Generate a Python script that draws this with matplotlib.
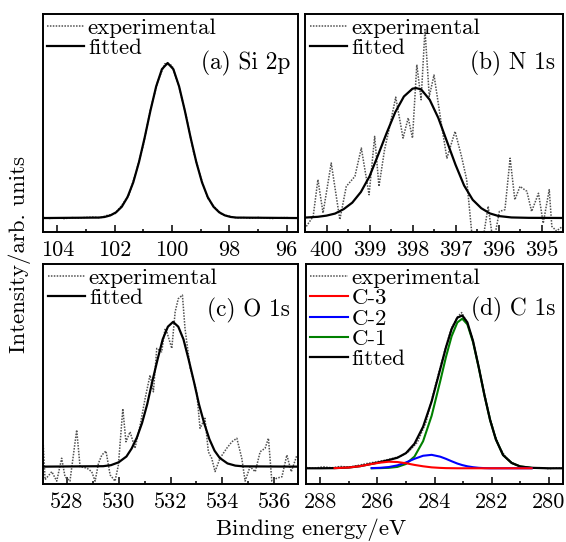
import numpy as np
import matplotlib
matplotlib.use("Agg")
from matplotlib import pyplot as plt
from matplotlib.ticker import MultipleLocator, FormatStrFormatter

plt.rcParams['font.family'] = ['cmr10', 'DejaVu Serif']
plt.rcParams['mathtext.fontset'] = 'cm'
plt.rcParams['axes.formatter.use_mathtext'] = True

# (a) Si 2p
si_exp_x = [104.5, 104.25, 104.0, 103.75, 103.5, 103.25, 103.0, 102.75, 102.5, 102.25, 102.0,
            101.75, 101.5, 101.25, 101.0, 100.75, 100.5, 100.25, 100.0, 99.75, 99.5, 99.25,
            99.0, 98.75, 98.5, 98.25, 98.0, 97.75, 97.5, 97.25, 97.0, 96.75, 96.5, 96.25,
            96.0, 95.75, 95.6]
si_exp_y = [0.004, -0.003, 0.002, -0.004, 0.003, 0.0, 0.004, 0.006, 0.002, 0.018, 0.026,
            0.082, 0.150, 0.298, 0.470, 0.700, 0.878, 0.995, 0.985, 0.845, 0.655, 0.430,
            0.265, 0.128, 0.068, 0.022, 0.012, 0.001, 0.003, -0.002, 0.004, 0.0, -0.003,
            0.002, 0.003, 0.0, -0.002]
si_fit_x = [104.5, 102.55, 102.35, 102.15, 101.95, 101.75, 101.55, 101.35, 101.15, 100.95,
            100.75, 100.55, 100.35, 100.15, 99.95, 99.75, 99.55, 99.35, 99.15, 98.95, 98.75,
            98.55, 98.35, 98.15, 97.95, 97.75, 95.6]
si_fit_y = [0.0, 0.003, 0.007, 0.017, 0.037, 0.073, 0.135, 0.230, 0.361, 0.520, 0.693, 0.849,
            0.960, 1.0, 0.960, 0.849, 0.693, 0.520, 0.361, 0.230, 0.135, 0.073, 0.037, 0.017,
            0.007, 0.003, 0.0]

# (b) N 1s
n_exp_x = [400.47, 400.31, 400.20, 400.08, 399.89, 399.69, 399.54, 399.34, 399.19, 399.01,
           398.88, 398.78, 398.65, 398.53, 398.39, 398.22, 398.10, 398.00, 397.90, 397.80,
           397.71, 397.61, 397.50, 397.32, 397.20, 397.01, 396.86, 396.74, 396.62, 396.45,
           396.24, 396.12, 395.98, 395.85, 395.73, 395.62, 395.50, 395.34, 395.23, 395.07,
           394.96, 394.82, 394.76, 394.65, 394.53]
n_exp_y = [-0.065, 0.012, 0.295, 0.038, 0.423, -0.013, 0.243, 0.32, 0.538, 0.179, 0.628, 0.243,
           0.525, 0.705, 0.93, 0.615, 0.77, 0.615, 1.18, 0.91, 1.45, 0.935, 1.10, 0.705, 0.46,
           0.666, 0.474, 0.295, -0.12, -0.35, 0.09, -0.2, 0.05, 0.064, 0.46, 0.14, 0.243,
           0.205, 0.05, 0.19, -0.04, 0.218, -0.065, -0.1, -0.07]
n_fit_x = [400.5, 400.2, 400.0, 399.8, 399.6, 399.4, 399.2, 399.0, 398.8, 398.6, 398.4, 398.2,
           398.0, 397.92, 397.8, 397.6, 397.4, 397.2, 397.0, 396.8, 396.6, 396.4, 396.2,
           396.0, 395.7, 395.3, 394.5]
n_fit_y = [0.003, 0.009, 0.018, 0.034, 0.068, 0.118, 0.20, 0.32, 0.485, 0.655, 0.815, 0.935,
           0.995, 1.0, 0.99, 0.91, 0.77, 0.59, 0.41, 0.25, 0.14, 0.075, 0.035, 0.015, 0.004,
           0.001, 0.0]

# (c) O 1s
o_exp_x = [527.09, 527.16, 527.42, 527.61, 527.80, 527.93, 528.12, 528.38, 528.51, 528.77,
           528.96, 529.09, 529.22, 529.35, 529.51, 529.67, 529.86, 529.99, 530.16, 530.28,
           530.44, 530.63, 530.83, 531.02, 531.21, 531.34, 531.47, 531.66, 531.79, 531.86,
           532.05, 532.18, 532.30, 532.46, 532.56, 532.76, 533.01, 533.14, 533.33, 533.46,
           533.59, 533.72, 533.91, 534.17, 534.37, 534.56, 534.75, 534.88, 535.07, 535.27,
           535.46, 535.65, 535.78, 535.91, 536.10, 536.30, 536.49, 536.66, 536.88]
o_exp_y = [0.15, -0.09, -0.035, -0.10, 0.058, -0.07, -0.10, 0.253, 0.0, -0.01, -0.035, -0.10,
           0.023, 0.08, 0.108, -0.057, -0.10, 0.012, 0.40, 0.172, 0.24, 0.127, 0.288, 0.47,
           0.632, 0.517, 0.817, 0.793, 0.954, 0.93, 0.817, 1.07, 1.16, 1.185, 0.954, 0.68,
           0.517, 0.265, 0.334, 0.103, 0.058, -0.034, 0.058, 0.127, 0.172, 0.196, 0.058, -0.10,
           0.0, -0.035, 0.103, 0.127, 0.196, -0.10, -0.08, -0.07, 0.08, -0.035, 0.08]
o_fit_x = [527.1, 529.4, 529.7, 530.0, 530.3, 530.5, 530.7, 530.9, 531.1, 531.3, 531.5, 531.7,
           531.9, 532.1, 532.3, 532.5, 532.7, 532.9, 533.1, 533.3, 533.5, 533.7, 533.9, 534.2,
           534.5, 534.8, 536.9]
o_fit_y = [0.0, 0.003, 0.01, 0.03, 0.07, 0.125, 0.2, 0.3, 0.43, 0.59, 0.74, 0.88, 0.967, 1.0,
           0.967, 0.88, 0.74, 0.59, 0.43, 0.30, 0.19, 0.11, 0.06, 0.022, 0.007, 0.002, 0.0]

# (d) C 1s
c_exp_x = [288.5, 288.2, 287.9, 287.6, 287.3, 287.0, 286.7, 286.4, 286.1, 285.8, 285.5, 285.2,
           284.9, 284.6, 284.3, 284.0, 283.8, 283.6, 283.4, 283.2, 283.05, 282.9, 282.7, 282.5,
           282.3, 282.1, 281.9, 281.7, 281.5, 281.3, 281.1, 280.9, 280.6, 280.3, 280.0, 279.7,
           279.5]
c_exp_y = [0.005, 0.0, 0.01, 0.003, 0.012, 0.008, 0.018, 0.03, 0.04, 0.05, 0.063, 0.078, 0.11,
           0.17, 0.30, 0.52, 0.66, 0.80, 0.92, 0.99, 1.02, 0.97, 0.87, 0.71, 0.53, 0.36, 0.225,
           0.13, 0.07, 0.038, 0.018, 0.006, 0.0, 0.004, -0.003, 0.002, 0.0]
c_fit_x = [288.5, 288.0, 287.5, 287.0, 286.6, 286.2, 285.9, 285.6, 285.3, 285.0, 284.7, 284.4,
           284.1, 283.8, 283.6, 283.4, 283.2, 283.03, 282.85, 282.65, 282.45, 282.25, 282.05,
           281.85, 281.6, 281.3, 281.0, 280.6, 280.0, 279.5]
c_fit_y = [0.0, 0.0, 0.001, 0.005, 0.014, 0.029, 0.041, 0.054, 0.069, 0.099, 0.161, 0.272,
           0.438, 0.649, 0.791, 0.912, 0.986, 1.001, 0.956, 0.833, 0.661, 0.478, 0.314, 0.189,
           0.087, 0.035, 0.012, 0.003, 0.0, 0.0]
c_comp_x = [287.5, 287.0, 286.6, 286.2, 285.9, 285.6, 285.3, 285.0, 284.7, 284.4, 284.1, 283.8,
            283.6, 283.4, 283.2, 283.03, 282.85, 282.65, 282.45, 282.25, 282.05, 281.85, 281.6,
            281.3, 281.0, 280.6]
c3_y = [0.001, 0.005, 0.014, 0.028, 0.037, 0.043, 0.041, 0.033, 0.022, 0.013, 0.006, 0.0025,
        0.001, 0.0005, 0, 0, 0, 0, 0, 0, 0, 0, 0, 0, 0, 0]
c2_y = [0, 0, 0, 0.001, 0.003, 0.008, 0.019, 0.038, 0.062, 0.082, 0.088, 0.076, 0.062, 0.046,
        0.031, 0.021, 0.013, 0.007, 0.003, 0.001, 0, 0, 0, 0, 0, 0]
c1_y = [0, 0, 0, 0, 0.001, 0.003, 0.009, 0.028, 0.077, 0.177, 0.344, 0.57, 0.728, 0.865, 0.955,
        0.98, 0.943, 0.826, 0.658, 0.477, 0.314, 0.189, 0.087, 0.035, 0.012, 0.003]

W, H = 566, 542
fig = plt.figure(figsize=(W / 100, H / 100), dpi=100)

def make_ax(l, t, r, b):
    return fig.add_axes([l / W, 1 - b / H, (r - l) / W, (b - t) / H])

ax_a = make_ax(43, 14, 298, 232)
ax_b = make_ax(305, 14, 563, 232)
ax_c = make_ax(43, 264, 298, 484)
ax_d = make_ax(306, 264, 563, 484)

exp_style = dict(color='#505050', lw=1.1, linestyle=(0, (1.0, 0.9)))
fit_style = dict(color='black', lw=1.6)

ax_a.plot(si_exp_x, si_exp_y, label='experimental', **exp_style)
ax_a.plot(si_fit_x, si_fit_y, label='fitted', **fit_style)
ax_a.set_xlim(104.5, 95.6)
ax_a.set_ylim(-0.09, 1.316)

ax_b.plot(n_exp_x, n_exp_y, label='experimental', **exp_style)
ax_b.plot(n_fit_x, n_fit_y, label='fitted', **fit_style)
ax_b.set_xlim(400.5, 394.5)
ax_b.set_ylim(-0.108, 1.57)

ax_c.plot(o_exp_x, o_exp_y, label='experimental', **exp_style)
ax_c.plot(o_fit_x, o_fit_y, label='fitted', **fit_style)
ax_c.set_xlim(527.08, 536.92)
ax_c.set_ylim(-0.12, 1.40)

# blue and green start a little later than red on the left baseline
h_exp, = ax_d.plot(c_exp_x, c_exp_y, label='experimental', **exp_style)
h_c1, = ax_d.plot(c_comp_x[3:], c1_y[3:], color='#008000', lw=1.5, label='C-1')
h_fit, = ax_d.plot(c_fit_x, c_fit_y, label='fitted', **fit_style)
h_c2, = ax_d.plot(c_comp_x[3:], c2_y[3:], color='#0000ff', lw=1.5, label='C-2')
h_c3, = ax_d.plot(c_comp_x, c3_y, color='#ff0000', lw=1.5, label='C-3')
ax_d.set_xlim(288.5, 279.5)
ax_d.set_ylim(-0.103, 1.338)

leg_kw = dict(loc='upper left', frameon=False, fontsize=16.5, handlelength=1.65,
              handletextpad=0.15, labelspacing=0.0, borderpad=0.0, borderaxespad=0.0)
ax_a.legend(bbox_to_anchor=(0.014, 0.98), **leg_kw)
ax_b.legend(bbox_to_anchor=(0.018, 0.98), **leg_kw)
ax_c.legend(bbox_to_anchor=(0.018, 0.98), **leg_kw)
ax_d.legend(handles=[h_exp, h_c3, h_c2, h_c1, h_fit], bbox_to_anchor=(0.016, 0.98), **leg_kw)

panel_labels = ['(a) Si 2p', '(b) N 1s', '(c) O 1s', '(d) C 1s']
for ax, lab, ty in zip([ax_a, ax_b, ax_c, ax_d], panel_labels, [0.775, 0.775, 0.79, 0.795]):
    ax.text(0.97, ty, lab, transform=ax.transAxes, ha='right', va='center', fontsize=16.8)

majors = [2, 1, 2, 2]
for ax, mj in zip([ax_a, ax_b, ax_c, ax_d], majors):
    ax.xaxis.set_major_locator(MultipleLocator(mj))
    ax.xaxis.set_minor_locator(MultipleLocator(mj / 2))
    ax.xaxis.set_major_formatter(FormatStrFormatter('%d'))
    ax.tick_params(axis='x', which='both', direction='in', top=False, labelsize=16, pad=6)
    ax.tick_params(axis='x', which='major', length=5, width=1.1)
    ax.tick_params(axis='x', which='minor', length=2.5, width=1.1)
    ax.set_yticks([])
    for s in ax.spines.values():
        s.set_linewidth(1.4)

fig.text(0.035, 0.53, 'Intensity/arb. units', rotation=90, ha='center', va='center', fontsize=16.5)
fig.text(0.55, 0.022, 'Binding energy/eV', ha='center', va='center', fontsize=16.5)

fig.savefig('out.png', dpi=100)
